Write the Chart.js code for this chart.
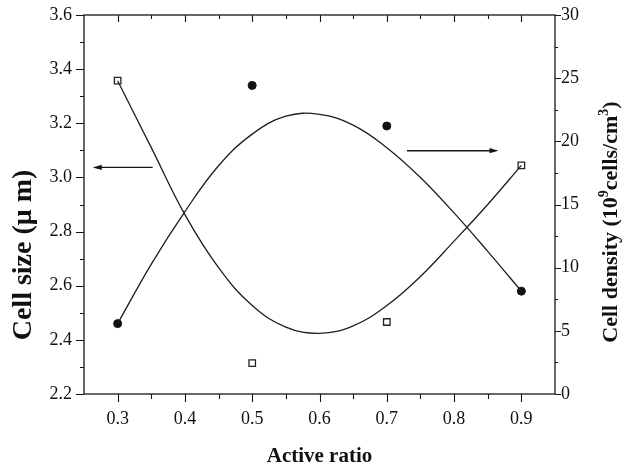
<!DOCTYPE html>
<html>
<head>
<meta charset="utf-8">
<script src="https://cdn.jsdelivr.net/npm/chart.js@4.4.1/dist/chart.umd.min.js"></script>
<style>
  html, body { margin: 0; padding: 0; background: #fff; }
  canvas { display: block; }
</style>
</head>
<body>
<canvas id="chart" width="629" height="467"></canvas>
<script>
// Measured samples
const ratio = [0.3, 0.5, 0.7, 0.9];
const cellSize = [2.46, 3.34, 3.19, 2.58];      // µm
const cellDensity = [24.8, 2.45, 5.7, 18.1];    // 10^9 cells/cm^3

// Smoothed trend curves
const fitRatio = [0.30, 0.35, 0.40, 0.45, 0.50, 0.55, 0.60, 0.65, 0.70, 0.75, 0.80, 0.85, 0.90];
const sizeFit = [2.46, 2.68, 2.874, 3.043, 3.16, 3.226, 3.233, 3.193, 3.11, 3.00, 2.869, 2.727, 2.58];
const densityFit = [24.8, 19.5, 14.2, 10.0, 7.0, 5.3, 4.8, 5.4, 7.0, 9.3, 12.1, 15.0, 18.1];

// Axis ticks
const ratioTicks = [0.3, 0.4, 0.5, 0.6, 0.7, 0.8, 0.9];
const sizeTicks = [2.2, 2.4, 2.6, 2.8, 3.0, 3.2, 3.4, 3.6];
const densityTicks = [0, 5, 10, 15, 20, 25, 30];

// Arrows pointing each curve to its axis: [fromX, fromY, toX, toY]
const sizeArrow = [0.352, 3.037, 0.263, 3.037];       // left axis units
const densityArrow = [0.730, 19.26, 0.866, 19.26];    // right axis units

const serif = '"Liberation Serif", "Times New Roman", Times, serif';
const ink = '#161616';

const pts = (xs, ys) => xs.map((x, i) => ({ x, y: ys[i] }));
const mids = arr => arr.slice(1).map((v, i) => (v + arr[i]) / 2);

function drawArrow(ctx, x0, y0, x1, y1) {
  const ang = Math.atan2(y1 - y0, x1 - x0);
  const len = 9, half = 2.6;
  ctx.beginPath();
  ctx.moveTo(x0, y0);
  ctx.lineTo(x1 - Math.cos(ang) * len * 0.6, y1 - Math.sin(ang) * len * 0.6);
  ctx.stroke();
  ctx.beginPath();
  ctx.moveTo(x1, y1);
  ctx.lineTo(x1 - Math.cos(ang) * len - Math.sin(ang) * half, y1 - Math.sin(ang) * len + Math.cos(ang) * half);
  ctx.lineTo(x1 - Math.cos(ang) * len + Math.sin(ang) * half, y1 - Math.sin(ang) * len - Math.cos(ang) * half);
  ctx.closePath();
  ctx.fill();
}

const decorations = {
  id: 'decorations',
  afterDraw(chart) {
    const { ctx, chartArea: a, scales: { x, y, y1 } } = chart;
    ctx.save();
    ctx.strokeStyle = ink;
    ctx.fillStyle = ink;

    // plot frame
    ctx.lineWidth = 1.3;
    ctx.strokeRect(a.left, a.top, a.right - a.left, a.bottom - a.top);

    // tick marks
    ctx.lineWidth = 1.1;
    ctx.beginPath();
    const seg = (x0, y0, x1, y1) => { ctx.moveTo(x0, y0); ctx.lineTo(x1, y1); };
    ratioTicks.forEach(v => {
      const px = Math.round(x.getPixelForValue(v)) + 0.5;
      seg(px, a.bottom, px, a.bottom + 8);
      seg(px, a.top, px, a.top + 7);
    });
    mids(ratioTicks).forEach(v => {
      const px = Math.round(x.getPixelForValue(v)) + 0.5;
      seg(px, a.bottom, px, a.bottom + 5);
      seg(px, a.top, px, a.top + 4);
    });
    sizeTicks.forEach(v => {
      const py = Math.round(y.getPixelForValue(v)) + 0.5;
      seg(a.left - 8, py, a.left, py);
    });
    mids(sizeTicks).forEach(v => {
      const py = Math.round(y.getPixelForValue(v)) + 0.5;
      seg(a.left - 4, py, a.left, py);
    });
    densityTicks.forEach(v => {
      const py = Math.round(y1.getPixelForValue(v)) + 0.5;
      seg(a.right, py, a.right + 6, py);
    });
    mids(densityTicks).forEach(v => {
      const py = Math.round(y1.getPixelForValue(v)) + 0.5;
      seg(a.right, py, a.right + 3, py);
    });
    ctx.stroke();

    // arrows
    ctx.lineWidth = 1.4;
    drawArrow(ctx,
      x.getPixelForValue(sizeArrow[0]), y.getPixelForValue(sizeArrow[1]),
      x.getPixelForValue(sizeArrow[2]), y.getPixelForValue(sizeArrow[3]));
    drawArrow(ctx,
      x.getPixelForValue(densityArrow[0]), y1.getPixelForValue(densityArrow[1]),
      x.getPixelForValue(densityArrow[2]), y1.getPixelForValue(densityArrow[3]));

    // axis titles
    ctx.fillStyle = '#111';
    ctx.textBaseline = 'alphabetic';
    ctx.textAlign = 'center';
    ctx.font = 'bold 21px ' + serif;
    ctx.fillText('Active ratio', (a.left + a.right) / 2, 462);

    ctx.save();
    ctx.translate(31, 255);
    ctx.rotate(-Math.PI / 2);
    ctx.font = 'bold 28px ' + serif;
    ctx.fillText('Cell size (\u03bc m)', 0, 0);
    ctx.restore();

    // right title with superscripts
    const parts = [
      ['Cell density (10', false],
      ['9', true],
      ['cells/cm', false],
      ['3', true],
      [')', false]
    ];
    const mainFont = 'bold 22px ' + serif;
    const supFont = 'bold 14px ' + serif;
    ctx.save();
    ctx.translate(617, 222);
    ctx.rotate(-Math.PI / 2);
    ctx.textAlign = 'left';
    let total = 0;
    parts.forEach(([t, sup]) => { ctx.font = sup ? supFont : mainFont; total += ctx.measureText(t).width; });
    let cx = -total / 2;
    parts.forEach(([t, sup]) => {
      ctx.font = sup ? supFont : mainFont;
      ctx.fillText(t, cx, sup ? -9 : 0);
      cx += ctx.measureText(t).width;
    });
    ctx.restore();

    ctx.restore();
  }
};

const tickFont = { family: serif, size: 18 };

// fixed scale boxes so the plot area sits at a set position
const fitVertical = w => s => { s.width = w; s.paddingTop = 0; s.paddingBottom = 0; };
const fitHorizontal = h => s => { s.height = h; s.paddingLeft = 0; s.paddingRight = 0; };

new Chart(document.getElementById('chart'), {
  type: 'scatter',
  data: {
    datasets: [
      {
        label: 'Cell size trend',
        data: pts(fitRatio, sizeFit),
        yAxisID: 'y',
        showLine: true,
        tension: 0.4,
        borderColor: '#1e1e1e',
        borderWidth: 1.3,
        pointRadius: 0,
        fill: false
      },
      {
        label: 'Cell density trend',
        data: pts(fitRatio, densityFit),
        yAxisID: 'y1',
        showLine: true,
        tension: 0.4,
        borderColor: '#1e1e1e',
        borderWidth: 1.3,
        pointRadius: 0,
        fill: false
      },
      {
        label: 'Cell size',
        data: pts(ratio, cellSize),
        yAxisID: 'y',
        pointStyle: 'circle',
        pointRadius: 4,
        backgroundColor: '#111',
        borderColor: '#111',
        borderWidth: 1
      },
      {
        label: 'Cell density',
        data: pts(ratio, cellDensity),
        yAxisID: 'y1',
        pointStyle: 'rect',
        pointRadius: 4.6,
        backgroundColor: '#fff',
        borderColor: '#222',
        borderWidth: 1.3
      }
    ]
  },
  options: {
    responsive: false,
    animation: false,
    events: [],
    layout: { padding: { top: 15, left: 0, right: 0, bottom: 0 } },
    plugins: { legend: { display: false }, tooltip: { enabled: false } },
    scales: {
      x: {
        type: 'linear',
        position: 'bottom',
        min: 0.25,
        max: 0.95,
        afterBuildTicks: s => { s.ticks = ratioTicks.map(v => ({ value: v })); },
        afterFit: fitHorizontal(73),
        grid: { display: false, drawTicks: false },
        border: { display: false },
        ticks: { font: tickFont, color: '#111', padding: 14, autoSkip: false, maxRotation: 0,
                 callback: v => Number(v).toFixed(1) }
      },
      y: {
        type: 'linear',
        position: 'left',
        min: 2.2,
        max: 3.6,
        afterBuildTicks: s => { s.ticks = sizeTicks.map(v => ({ value: v })); },
        afterFit: fitVertical(84),
        grid: { display: false, drawTicks: false },
        border: { display: false },
        ticks: { font: tickFont, color: '#111', padding: 12, autoSkip: false,
                 callback: v => Number(v).toFixed(1) }
      },
      y1: {
        type: 'linear',
        position: 'right',
        min: 0,
        max: 30,
        afterBuildTicks: s => { s.ticks = densityTicks.map(v => ({ value: v })); },
        afterFit: fitVertical(74),
        grid: { display: false, drawTicks: false },
        border: { display: false },
        ticks: { font: tickFont, color: '#111', padding: 6, autoSkip: false,
                 callback: v => String(v) }
      }
    }
  },
  plugins: [decorations]
});
</script>
</body>
</html>
